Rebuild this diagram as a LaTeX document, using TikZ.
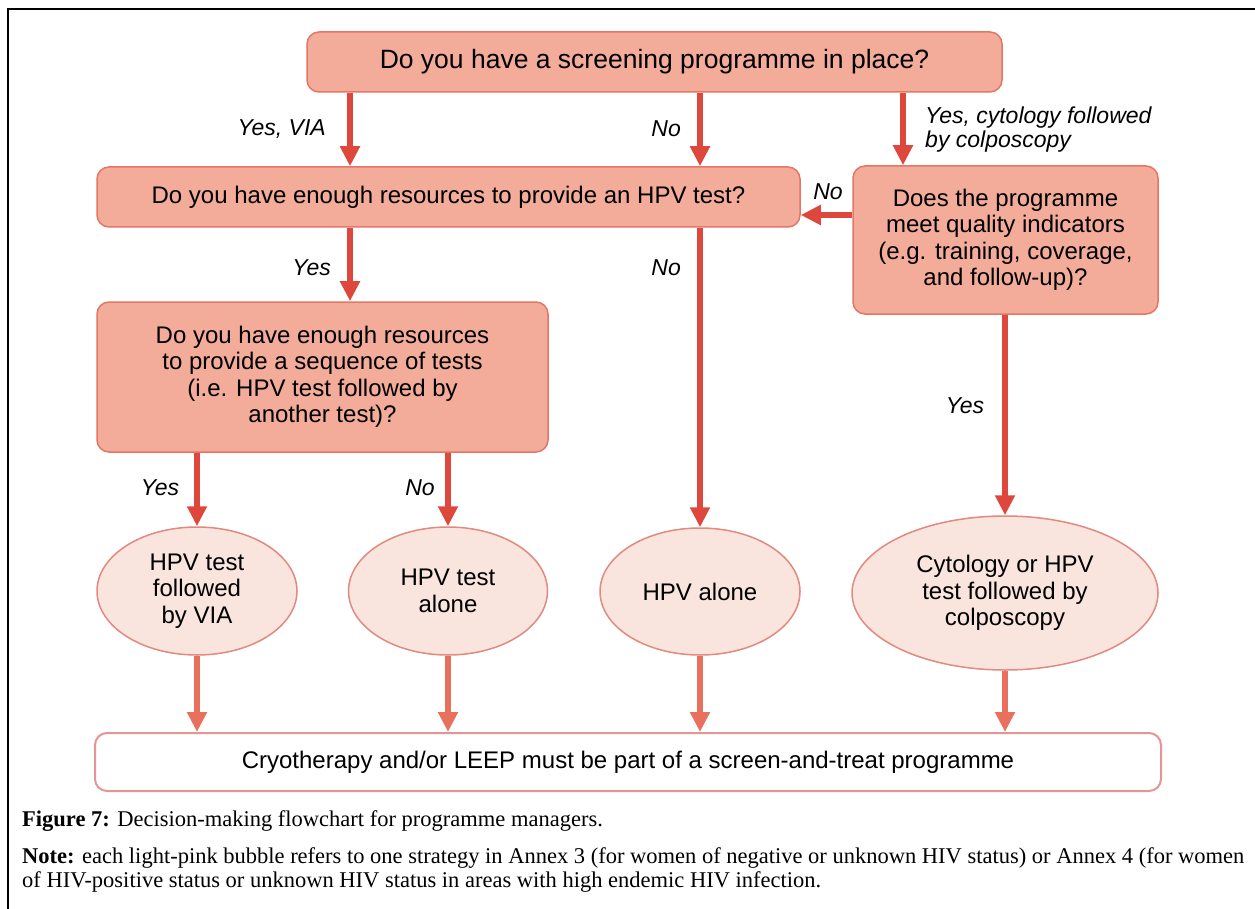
\documentclass[tikz,border=0pt]{standalone}
\usepackage{fontspec}
\setmainfont{Liberation Serif}
\newfontfamily\arialf{Liberation Sans}
\usetikzlibrary{arrows.meta,shapes.geometric}
\definecolor{boxfill}{RGB}{243,172,154}
\definecolor{boxline}{RGB}{228,118,102}
\definecolor{arrred}{RGB}{222,72,60}
\definecolor{ellfill}{RGB}{250,228,222}
\definecolor{ellline}{RGB}{224,138,128}
\definecolor{arrlight}{RGB}{232,112,92}
\definecolor{botline}{RGB}{228,150,150}
\newcommand\flowfont{\arialf\fontsize{24}{26.5}\selectfont}
\newcommand\topfont{\arialf\fontsize{26.5}{28}\selectfont}
\newcommand\lblfont{\arialf\itshape\fontsize{23}{24}\selectfont}
\newcommand\capfont{\fontsize{22.5}{24}\selectfont}
\begin{document}
\begin{tikzpicture}[x=1pt,y=-1pt,
  decbox/.style={draw=boxline, fill=boxfill, line width=1.5pt, rounded corners=12pt,
    align=center, font=\flowfont, inner sep=0pt},
  bubble/.style={ellipse, draw=ellline, fill=ellfill, line width=1.5pt,
    align=center, font=\flowfont, inner sep=0pt},
  endbox/.style={draw=botline, fill=white, line width=2pt, rounded corners=12pt,
    align=center, font=\flowfont, inner sep=0pt},
  arr/.style={draw=arrred, line width=6pt, -{Triangle[length=20pt,width=19pt]}},
  arrl/.style={draw=arrlight, line width=6.5pt, -{Triangle[length=20pt,width=19pt]}},
  lbl/.style={font=\lblfont, inner sep=0pt},
  captext/.style={font=\capfont, inner sep=0pt, anchor=base west}
]
\useasboundingbox (0,0) rectangle (1255,909);
\draw[line width=2.5pt] (8,909) -- (8,9) -- (1255,9);

% nodes
\node[decbox, font=\topfont, minimum width=695pt, minimum height=60pt] (top) at (654.5,62)
  {Do you have a screening programme in place?};
\node[decbox, minimum width=703pt, minimum height=60pt] (res) at (448.5,197)
  {Do you have enough resources to provide an HPV test?};
\node[decbox, minimum width=305pt, minimum height=148pt] (qual) at (1005.5,240)
  {Does the programme\\meet quality indicators\\(e.g. training, coverage,\\and follow-up)?};
\node[decbox, minimum width=451pt, minimum height=150pt] (seq) at (322.5,377)
  {Do you have enough resources\\to provide a sequence of tests\\(i.e. HPV test followed by\\another test)?};
\node[bubble, minimum width=200pt, minimum height=128pt] (e1) at (197,591)
  {HPV test\\followed\\by VIA};
\node[bubble, minimum width=199pt, minimum height=128pt] (e2) at (448,591)
  {HPV test\\alone};
\node[bubble, minimum width=200pt, minimum height=127pt] (e3) at (700,591.5)
  {HPV alone};
\node[bubble, minimum width=306pt, minimum height=154pt] (e4) at (1005,593)
  {Cytology or HPV\\test followed by\\colposcopy};
\node[endbox, minimum width=1066pt, minimum height=58pt] (bot) at (628,762)
  {Cryotherapy and/or LEEP must be part of a screen-and-treat programme};

% helper coordinates
\coordinate (xa) at (350,0);
\coordinate (xb) at (700,0);
\coordinate (xc) at (903,0);
\coordinate (yn) at (0,215);

% connectors
\draw[arr] (top.south -| xa) -- (res.north -| xa);
\draw[arr] (top.south -| xb) -- (res.north -| xb);
\draw[arr] (top.south -| xc) -- (qual.north -| xc);
\draw[arr] (qual.west |- yn) -- (res.east |- yn);
\draw[arr] (res.south -| xa) -- (seq.north -| xa);
\draw[arr] (res.south -| xb) -- (e3.north);
\draw[arr] (seq.south -| e1) -- (e1.north);
\draw[arr] (seq.south -| e2) -- (e2.north);
\draw[arr] (qual.south -| e4) -- (e4.north);
\draw[arrl] (e1.south) -- (bot.north -| e1);
\draw[arrl] (e2.south) -- (bot.north -| e2);
\draw[arrl] (e3.south) -- (bot.north -| e3);
\draw[arrl] (e4.south) -- (bot.north -| e4);

% labels
\node[lbl, anchor=east] (l1) at (326,129) {Yes, VIA};
\node[lbl, anchor=east] (l2) at (681,129) {No};
\node[lbl, anchor=west, align=left] (l3) at (925,130) {Yes, cytology followed\\by colposcopy};
\node[lbl] (l4) at (828,192) {No};
\node[lbl, anchor=east] (l5) at (331,268) {Yes};
\node[lbl, anchor=east] (l6) at (681,268) {No};
\node[lbl] (l7) at (160,488) {Yes};
\node[lbl] (l8) at (420,488) {No};
\node[lbl] (l9) at (965,406) {Yes};

% caption
\node[captext] (cap1) at (22,826) {\textbf{Figure 7:} Decision-making flowchart for programme managers.};
\node[captext] (cap2) at (22,863) {\textbf{Note:} each light-pink bubble refers to one strategy in Annex 3 (for women of negative or unknown HIV status) or Annex 4 (for women};
\node[captext] (cap3) at (22,887) {of HIV-positive status or unknown HIV status in areas with high endemic HIV infection.};
\end{tikzpicture}
\end{document}
